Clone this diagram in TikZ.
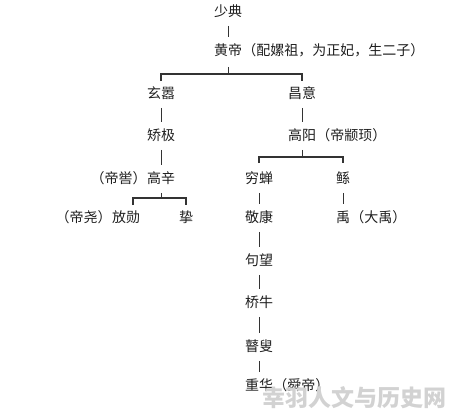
\documentclass[tikz,border=0pt]{standalone}
\usepackage{fontspec}
\newfontfamily\cjk{Noto Sans CJK SC}
\usepackage{xcolor}
\definecolor{LineGray}{HTML}{333333}
\definecolor{NameText}{HTML}{1E1E1E}
\definecolor{MarkGray}{HTML}{D2D2D2}
\usetikzlibrary{positioning}

\begin{document}
\begin{tikzpicture}[x=1pt,y=-1pt,
  every node/.style={
    inner sep=0pt,text height=11pt,text depth=2.5pt,
    font=\cjk\fontsize{14}{15}\selectfont,
    text=NameText
  },
  link/.style={draw=LineGray,line width=0.8pt,shorten <=7pt,shorten >=7pt},
  stem/.style={draw=LineGray,line width=0.8pt},
  fork/.style={draw=LineGray,line width=2pt}
]
  \useasboundingbox (0,0) rectangle (465,413);

  \node (shaodian) at (228,12) {少典};
  \node (huangdi)  at (228,51) {黄帝};
  \node (huangdiN) [right=0pt of huangdi] {（配嫘祖，为正妃，生二子）};

  \node (xuanxiao) at (161,94) {玄嚣};
  \node (changyi)  at (302,94) {昌意};
  \node (jiaoji)   at (161,136) {矫极};
  \node (gaoyang)  at (302,136) {高阳};
  \node (gaoyangN) [right=0pt of gaoyang] {（帝颛顼）};

  \node (gaoxin)   at (161,179) {高辛};
  \node (gaoxinN)  [left=0pt of gaoxin] {（帝喾）};
  \node (qiongchan) at (259,179) {穷蝉};
  \node (gun)      at (343,179) {鲧};

  \node (fangxun)  at (126,218) {放勋};
  \node (fangxunN) [left=0pt of fangxun] {（帝尧）};
  \node (zhi)      at (186,218) {挚};
  \node (jingkang) at (259,218) {敬康};
  \node (yu)       at (343,218) {禹};
  \node (yuN)      [right=0pt of yu] {（大禹）};

  \node (juwang)   at (259,261) {句望};
  \node (qiaoniu)  at (259,303) {桥牛};
  \node (gusou)    at (259,347) {瞽叟};
  \node (chonghua) at (259,386) {重华};
  \node (chonghuaN) [right=0pt of chonghua] {（舜帝）};

  \node (mark) at (354,402) [text=MarkGray,font=\cjk\bfseries\fontsize{23}{24}\selectfont] {幸羽人文与历史网};

  \draw[link] (shaodian) -- (huangdi);
  \draw[link] (xuanxiao) -- (jiaoji);
  \draw[link] (jiaoji) -- (gaoxin);
  \draw[link] (changyi) -- (gaoyang);
  \draw[link] (qiongchan) -- (jingkang);
  \draw[link] (gun) -- (yu);
  \draw[link] (jingkang) -- (juwang);
  \draw[link] (juwang) -- (qiaoniu);
  \draw[link] (qiaoniu) -- (gusou);
  \draw[link] (gusou) -- (chonghua);

  \coordinate (forkA) at (0,74);
  \coordinate (forkB) at (0,157);
  \coordinate (forkC) at (0,198);

  \draw[stem] ([yshift=-9pt]huangdi.south) -- (huangdi |- forkA);
  \draw[fork] ([yshift=6pt]xuanxiao.north) |- (huangdi |- forkA) -| ([yshift=6pt]changyi.north);

  \draw[stem] ([yshift=-7pt]gaoyang.south) -- (gaoyang |- forkB);
  \draw[fork] ([yshift=9pt]qiongchan.north) |- (gaoyang |- forkB) -| ([yshift=9pt]gun.north);

  \draw[stem] ([yshift=-7pt]gaoxin.south) -- (gaoxin |- forkC);
  \draw[fork] ([xshift=7pt,yshift=6pt]fangxun.north) |- (gaoxin |- forkC) -| ([yshift=6pt]zhi.north);
\end{tikzpicture}
\end{document}
